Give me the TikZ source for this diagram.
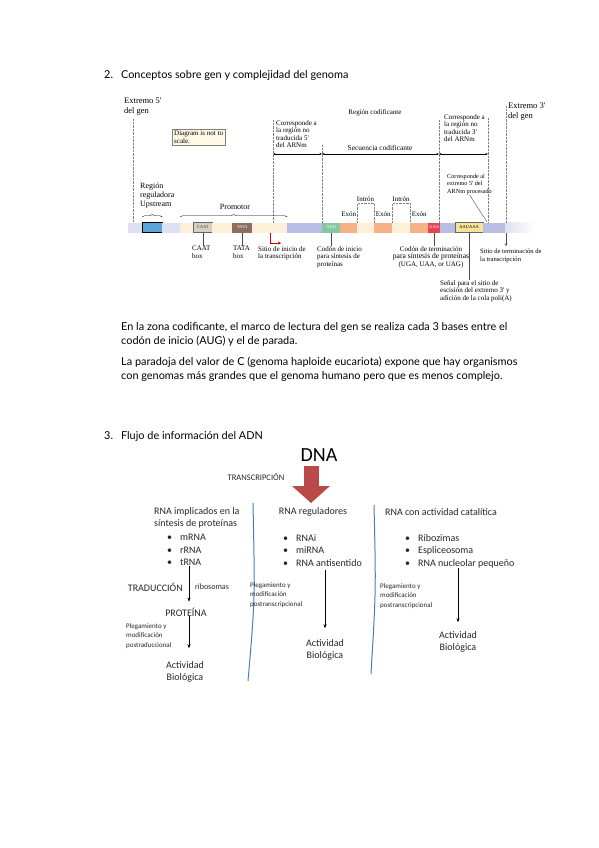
\documentclass[tikz,border=0pt]{standalone}
\usepackage{fontspec}
\setmainfont{Lato}
\newfontfamily\genfont{Liberation Serif}
\newfontfamily\figfont{Carlito}
\usetikzlibrary{arrows.meta,decorations.pathreplacing,positioning}

\definecolor{lavclaro}{HTML}{DEE1F2}
\definecolor{lav}{HTML}{B7BDE3}
\definecolor{azulgen}{HTML}{5AA6D8}
\definecolor{crema}{HTML}{FCF1D8}
\definecolor{caatgris}{HTML}{D9CFC1}
\definecolor{tatamarron}{HTML}{8C6D62}
\definecolor{augverde}{HTML}{87C7A6}
\definecolor{exonnar}{HTML}{F5B289}
\definecolor{stoprojo}{HTML}{E24555}
\definecolor{polyaam}{HTML}{F8E29A}
\definecolor{rojoflecha}{HTML}{B94A48}
\definecolor{azullinea}{HTML}{4A7EBB}
\definecolor{notafondo}{HTML}{FDF9E6}

\begin{document}
\begin{tikzpicture}[
  x=1pt, y=-1pt,
  seg/.style={rectangle, fill=#1, minimum height=10pt, inner sep=0pt, anchor=west,
              font=\genfont\fontsize{4.5}{5}\selectfont},
  seg/.default=crema,
  gtxt/.style={font=\genfont\fontsize{7}{7.6}\selectfont, align=left, inner sep=0pt},
  gbig/.style={font=\genfont\fontsize{8}{9}\selectfont, align=left, inner sep=0pt},
  guia/.style={densely dotted, gray, thin},
  cota/.style={{Stealth[length=2.5pt,width=2pt]}-{Stealth[length=2.5pt,width=2pt]}, thin},
  llave/.style={decorate, decoration={brace, amplitude=2.5pt}, thin},
  linea/.style={thin, black!70},
  ftxt/.style={font=\figfont\fontsize{10}{12.5}\selectfont, align=left, inner sep=0pt, text=black!85},
  fsmall/.style={font=\figfont\fontsize{7}{9.5}\selectfont, align=left, inner sep=0pt, text=black!85},
  flecha/.style={-{Stealth[length=4pt,width=3pt]}, thin},
  sepa/.style={azullinea, line width=1pt},
  ptxt/.style={font=\fontsize{10.9}{14}\selectfont, align=left, inner sep=0pt, anchor=north west}
]
  \useasboundingbox (0,0) rectangle (599,848);

  \node[ptxt] (tit2) at (104,70) {2.\hspace{8pt}Conceptos sobre gen y complejidad del genoma};

  % Barra del gen
  \node[seg=lavclaro, minimum width=14pt] (s1) at (128,227.5) {};
  \node[seg=azulgen, draw=black, minimum width=20pt] (s2) at (142,227.5) {};
  \node[seg=lavclaro, minimum width=18pt] (s3) at (162,227.5) {};
  \node[seg, minimum width=13pt] (s4) at (180,227.5) {};
  \node[seg=caatgris, draw=black!60, minimum width=19pt, text=black!75] (caat) at (193,227.5) {CAAT};
  \node[seg, minimum width=20pt] (s6) at (212,227.5) {};
  \node[seg=tatamarron, minimum width=20pt, text=white] (tata) at (232,227.5) {TATA};
  \node[seg, minimum width=35pt] (s8) at (252,227.5) {};
  \node[seg=lav, minimum width=35pt] (s9) at (287,227.5) {};
  \node[seg=augverde, minimum width=18pt, text=white] (aug) at (322,227.5) {AUG};
  \node[seg=exonnar, minimum width=17pt] (ex1) at (340,227.5) {};
  \node[seg, minimum width=17pt] (in1) at (357,227.5) {};
  \node[seg=exonnar, minimum width=18pt] (ex2) at (374,227.5) {};
  \node[seg, minimum width=18pt] (in2) at (392,227.5) {};
  \node[seg=exonnar, minimum width=18pt] (ex3) at (410,227.5) {};
  \node[seg=stoprojo, minimum width=12pt, text=white] (stop) at (428,227.5) {UAA};
  \node[seg=lav, minimum width=15pt] (s17) at (440,227.5) {};
  \node[seg=polyaam, draw=black!60, minimum width=28pt] (polya) at (455,227.5) {AAUAAA};
  \node[seg=lav, minimum width=22pt] (s19) at (483,227.5) {};
  \node[seg, left color=lavclaro, right color=white, minimum width=30pt] (s20) at (505,227.5) {};

  % Encima de la barra
  \node[gbig, font=\genfont\fontsize{8.5}{10}\selectfont, anchor=north west] (ext5) at (124,98) {Extremo 5'\\del gen};
  \node[gtxt, draw=gray, fill=notafondo, inner sep=2pt, anchor=north west] (nota) at (172,129) {Diagram is not to\\scale.};
  \node[gtxt, anchor=north west] (utr5) at (276,120) {Corresponde a\\la región no\\traducida 5'\\del ARNm};
  \node[gtxt] (codif) at (375,113) {Región codificante};
  \node[gtxt, font=\genfont\fontsize{7.4}{8}\selectfont] (secu) at (380,148) {Secuencia codificante};
  \node[gtxt, anchor=north west] (utr3) at (444,114) {Corresponde a\\la región no\\traducida 3'\\del ARNm};
  \node[gbig, font=\genfont\fontsize{8.5}{10}\selectfont, anchor=north west] (ext3) at (508,103) {Extremo 3'\\del gen};
  \node[gtxt, font=\genfont\fontsize{6.2}{7.4}\selectfont, anchor=north west] (cap5) at (447,174) {Corresponde al\\extremo 5' del\\ARNm procesado};
  \node[gbig, anchor=north west] (regreg) at (140,183) {Región\\reguladora\\Upstream};
  \node[gbig] (prom) at (235,207) {Promotor};
  \node[gtxt] (intr1) at (365.5,199) {Intrón};
  \node[gtxt] (intr2) at (401,199) {Intrón};
  \node[gtxt, above=6pt of ex1] (exl1) {Exón};
  \node[gtxt, above=6pt of ex2] (exl2) {Exón};
  \node[gtxt, above=6pt of ex3] (exl3) {Exón};

  \coordinate (g5) at (133,119);
  \coordinate (g273) at (273,120);
  \coordinate (g322) at (322,145);
  \coordinate (g439) at (439,120);
  \coordinate (g488) at (488,118);
  \coordinate (g506) at (506,106);
  \coordinate (cotay) at (0,154);
  \coordinate (llavey) at (0,217);
  \coordinate (cap5fin) at (487,222);

  \draw[guia] (g5) -- (g5 |- s1.north);
  \draw[guia] (g273) -- (g273 |- s1.north);
  \draw[guia] (g322) -- (g322 |- s1.north);
  \draw[guia] (g439) -- (g439 |- s1.north);
  \draw[guia] (g488) -- (g488 |- s1.north);
  \draw[guia] (g506) -- (g506 |- s1.north);
  \draw[cota] (g273 |- cotay) -- (g322 |- cotay);
  \draw[cota] (g322 |- cotay) -- (g439 |- cotay);
  \draw[cota] (g439 |- cotay) -- (g488 |- cotay);
  \draw[llave] (s2.west |- llavey) -- (s2.east |- llavey);
  \draw[llave] (s4.west |- llavey) -- (s8.east |- llavey);
  \draw[guia] (in1.north west) |- ([yshift=-2pt]intr1.south) -| (in1.north east);
  \draw[guia] (in2.north west) |- ([yshift=-2pt]intr2.south) -| (in2.north east);
  \draw[linea] (cap5.south) .. controls (476,205) .. (cap5fin);

  % Debajo de la barra
  \node[gtxt, anchor=north west] (caatl) at (192,246) {CAAT\\box};
  \node[gtxt, anchor=north west] (tatal) at (233,246) {TATA\\box};
  \node[gtxt, anchor=north west] (tssl) at (258,246) {Sitio de inicio de\\la transcripción};
  \node[gtxt, anchor=north west] (augl) at (317,246) {Codón de inicio\\para síntesis de\\proteínas};
  \node[gtxt, anchor=north, align=center] (stopl) at (431,246) {Codón de terminación\\{\fontsize{7.6}{7.6}\selectfont para síntesis de proteínas}\\(UGA, UAA, or UAG)};
  \node[gtxt, font=\genfont\fontsize{6.6}{7.6}\selectfont, anchor=north west] (ttsl) at (480,249) {Sitio de terminación de\\la transcripción};
  \node[gtxt, anchor=north west] (polyal) at (440,280) {Señal para el sitio de\\escisión del extremo 3' y\\adición de la cola poli(A)};

  \coordinate (tss) at (270,232.5);
  \coordinate (tssfin) at (281,243);
  \coordinate (tts) at (506,232.5);
  \draw[linea] (caat.south) -- (caat.south |- caatl.north);
  \draw[linea] (tata.south) -- (tata.south |- tatal.north);
  \draw[red!80!black, -{Stealth[length=3pt,width=3pt]}] (tss) |- (tssfin);
  \draw[linea] (aug.south) -- (aug.south |- augl.north);
  \draw[linea] (stop.south) -- (stop.south |- stopl.north);
  \draw[linea] (polya.south) -- (polya.south |- polyal.north);
  \draw[linea, -{Stealth[length=2.5pt,width=2.5pt]}] (tts) -- ([yshift=3pt]tts |- ttsl.north);

  \node[ptxt] (par1) at (121,322) {En la zona codificante, el marco de lectura del gen se realiza cada 3 bases entre el\\codón de inicio (AUG) y el de parada.};
  \node[ptxt] (par2) at (121,357) {La paradoja del valor de C (genoma haploide eucariota) expone que hay organismos\\con genomas más grandes que el genoma humano pero que es menos complejo.};

  \node[ptxt] (tit3) at (104,431) {3.\hspace{8pt}Flujo de información del ADN};

  % Flujo del ADN
  \node[font=\figfont\fontsize{20}{20}\selectfont, inner sep=0pt] (dna) at (319,455) {DNA};
  \node[font=\figfont\fontsize{8.5}{10}\selectfont, inner sep=0pt, text=black!85] (transc) at (256,477) {TRANSCRIPCIÓN};
  \coordinate (arrini) at (311,466);
  \coordinate (arrfin) at (311,503);
  \draw[rojoflecha, line width=15pt, -{Triangle[length=17pt,width=37pt]}] (arrini) -- (arrfin);

  \coordinate (sepa1) at (253,503);
  \coordinate (sepa2) at (248,681);
  \coordinate (sepb1) at (374,505);
  \coordinate (sepb2) at (371,674);
  \draw[sepa] (sepa1) .. controls (255,600) .. (sepa2);
  \draw[sepa] (sepb1) .. controls (376,590) .. (sepb2);

  \node[ftxt, anchor=north west] (h1) at (154,507) {RNA implicados en la\\síntesis de proteínas};
  \node[ftxt] (h2) at (313,512) {RNA reguladores};
  \node[ftxt] (h3) at (441,512) {RNA con actividad catalítica};

  \node[ftxt, anchor=north west] (list1) at (167,534) {•\hspace{8pt}mRNA\\•\hspace{8pt}rRNA\\•\hspace{8pt}tRNA};
  \node[ftxt, anchor=north west] (list2) at (283,534) {•\hspace{8pt}RNAi\\•\hspace{8pt}miRNA\\•\hspace{8pt}RNA antisentido};
  \node[ftxt, anchor=north west] (list3) at (405,534) {•\hspace{8pt}Ribozimas\\•\hspace{8pt}Espliceosoma\\•\hspace{8pt}RNA nucleolar pequeño};

  % Columna 1
  \node[ftxt] (prot) at (186,612) {PROTEÍNA};
  \node[ftxt, align=center] (act1) at (185,672) {Actividad\\Biológica};
  \node[ftxt, anchor=east] (trad) at (183,587) {TRADUCCIÓN};
  \node[fsmall, font=\figfont\fontsize{8}{9.5}\selectfont, anchor=west] (ribo) at (195,587) {ribosomas};
  \node[fsmall, anchor=north west] (pleg1) at (126,623) {Plegamiento y\\modificación\\postraduccional};
  \draw[flecha] ([xshift=3pt]prot.north |- list1.south) -- ([xshift=3pt, yshift=6pt]prot.north);
  \draw[flecha] ([xshift=3pt]prot.south) -- ([xshift=4pt, yshift=13pt]act1.north);

  % Columna 2
  \node[ftxt, align=center] (act2) at (325,650) {Actividad\\Biológica};
  \node[fsmall, anchor=north west] (pleg2) at (250,582) {Plegamiento y\\modificación\\postranscripcional};
  \draw[flecha] ([yshift=-4pt]act2.north |- list2.south) -- ([yshift=11pt]act2.north);

  % Columna 3
  \node[ftxt, align=center] (act3) at (458,642) {Actividad\\Biológica};
  \node[fsmall, anchor=north west] (pleg3) at (380,583) {Plegamiento y\\modificación\\postranscripcional};
  \draw[flecha] (act3.north |- list3.south) -- ([yshift=9pt]act3.north);
\end{tikzpicture}
\end{document}
